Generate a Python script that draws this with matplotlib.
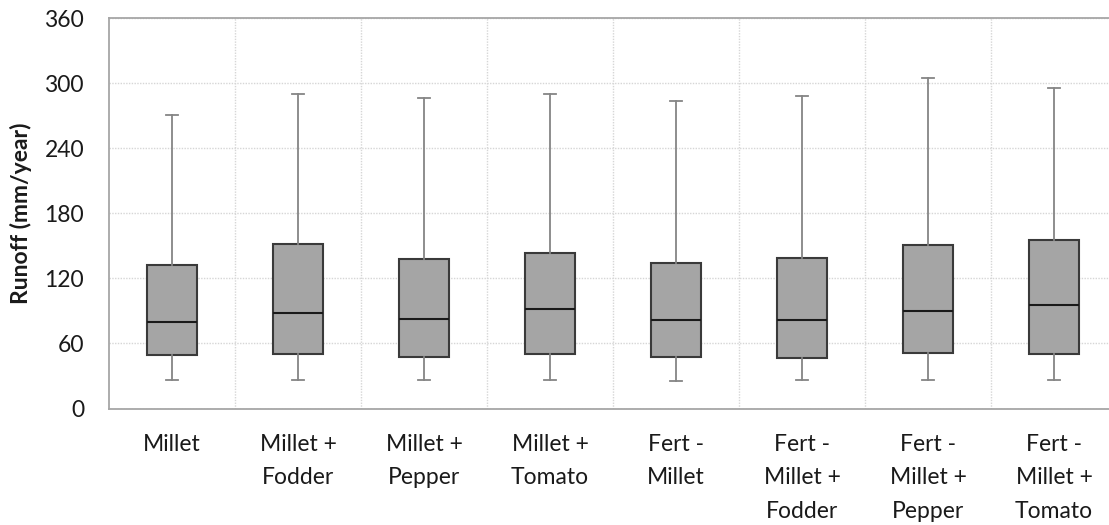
import matplotlib.pyplot as plt
from matplotlib.ticker import FixedLocator

plt.rcParams['font.family'] = ['Lato', 'DejaVu Sans']

# Datos (mm/year)
categorias = ['Millet', 'Millet +\nFodder', 'Millet +\nPepper', 'Millet +\nTomato',
              'Fert -\nMillet', 'Fert -\nMillet +\nFodder', 'Fert -\nMillet +\nPepper',
              'Fert -\nMillet +\nTomato']
minimo = [26.6, 26.6, 26.6, 26.6, 25.7, 26.6, 26.6, 26.6]
q1 = [49.1, 50.3, 47.8, 50.3, 47.2, 46.9, 51.5, 50.3]
mediana = [80.1, 88.4, 82.3, 91.8, 81.4, 81.4, 89.7, 95.2]
q3 = [132.1, 152.1, 137.6, 143.7, 134.2, 138.9, 150.8, 155.9]
maximo = [270.5, 290.4, 286.7, 290.4, 283.7, 288.3, 304.9, 295.4]

stats = []
for i, nombre in enumerate(categorias):
    stats.append({'label': nombre, 'whislo': minimo[i], 'q1': q1[i], 'med': mediana[i],
                  'q3': q3[i], 'whishi': maximo[i], 'fliers': []})

fig = plt.figure(figsize=(11.09, 5.25), dpi=100)
ax = fig.add_axes([0.0983, 0.2219, 0.909, 0.7432])

ax.bxp(stats, widths=0.4, capwidths=0.095, showfliers=False, patch_artist=True,
       boxprops=dict(facecolor='#a5a5a5', edgecolor='#3a3a3a', linewidth=1.5),
       medianprops=dict(color='#1a1a1a', linewidth=1.5),
       whiskerprops=dict(color='#858585', linewidth=1.3),
       capprops=dict(color='#858585', linewidth=1.3))

ax.set_ylim(0, 360)
ax.set_xlim(0.5, 8.5)
ax.set_yticks(range(0, 361, 60))
ax.xaxis.set_minor_locator(FixedLocator([i + 0.5 for i in range(1, 8)]))
ax.grid(axis='y', which='major', color='#d6d6d6', linestyle=(0, (1, 1)), linewidth=1)
ax.grid(axis='x', which='minor', color='#d6d6d6', linestyle=(0, (1, 1)), linewidth=1)
ax.set_axisbelow(True)

for lado in ['left', 'top', 'bottom']:
    ax.spines[lado].set_color('#a6a6a6')
    ax.spines[lado].set_linewidth(1.3)
ax.spines['right'].set_visible(False)

ax.tick_params(axis='both', which='both', length=0)
ax.tick_params(axis='y', labelsize=16.5, pad=18, labelcolor='#1a1a1a')
ax.tick_params(axis='x', labelsize=16.5, pad=18, labelcolor='#1a1a1a')
for t in ax.get_xticklabels():
    t.set_linespacing(1.74)
    t.set_verticalalignment('top')

ax.set_ylabel('Runoff (mm/year)', fontsize=16.5, fontweight='bold', labelpad=9,
              color='#1a1a1a')

plt.savefig('out.png', dpi=100)
plt.close()
